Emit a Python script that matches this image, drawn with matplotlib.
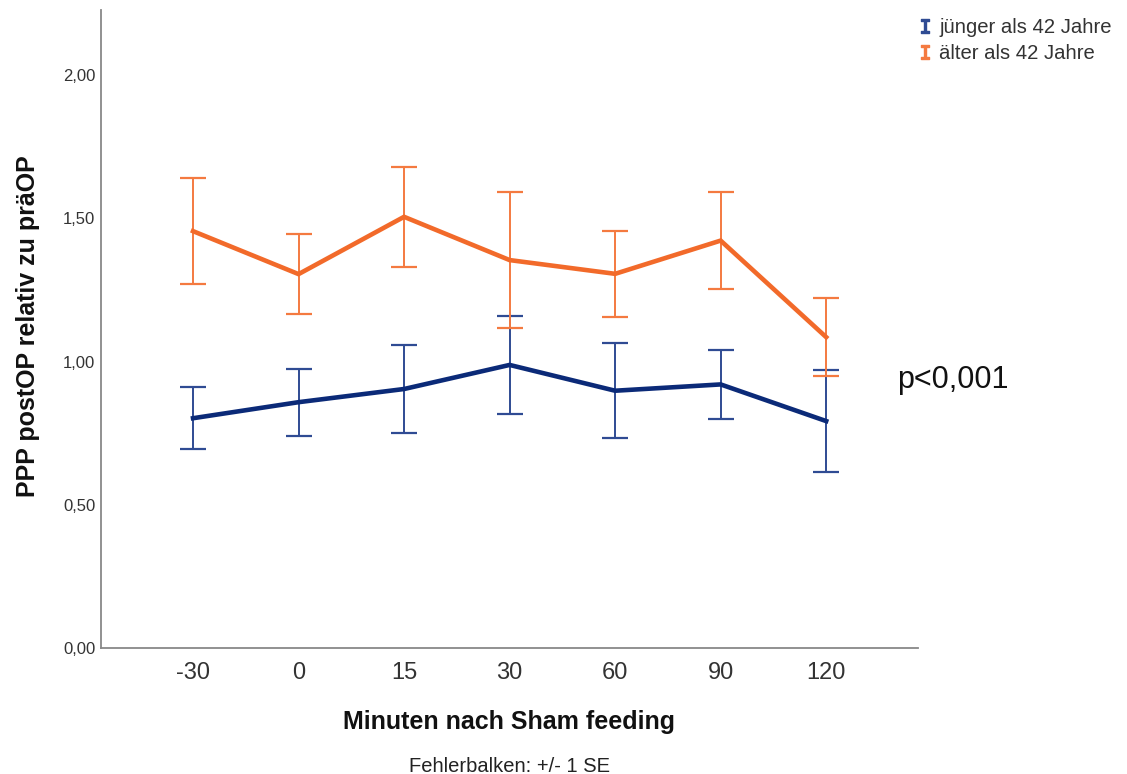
import matplotlib
matplotlib.use("Agg")
import matplotlib.pyplot as plt
from matplotlib.lines import Line2D

plt.rcParams['font.family'] = ['Liberation Sans', 'DejaVu Sans']

categories = ["-30", "0", "15", "30", "60", "90", "120"]
young_mean = [0.802, 0.858, 0.904, 0.988, 0.898, 0.920, 0.792]
young_se = [0.108, 0.117, 0.152, 0.171, 0.165, 0.121, 0.178]
old_mean = [1.455, 1.305, 1.505, 1.354, 1.306, 1.422, 1.085]
old_se = [0.186, 0.140, 0.174, 0.238, 0.150, 0.168, 0.135]
y_ticks = [0.0, 0.5, 1.0, 1.5, 2.0]
y_ticklabels = ["0,00", "0,50", "1,00", "1,50", "2,00"]
legend_labels = ["jünger als 42 Jahre", "älter als 42 Jahre"]

blue_line = "#0b2a78"
blue_err = "#2f4b93"
orange_line = "#f26a2a"
orange_err = "#f47a40"

fig = plt.figure(figsize=(11.27, 7.74), dpi=100)
ax = fig.add_axes([101/1127, 1-648/774, (918-101)/1127, (648-10)/774])

x = list(range(len(categories)))
for mean, se, lc, ec in [(young_mean, young_se, blue_line, blue_err),
                         (old_mean, old_se, orange_line, orange_err)]:
    ax.errorbar(x, mean, yerr=se, fmt='none', ecolor=ec, elinewidth=1.4,
                capsize=9.4, capthick=1.6, zorder=2)
    ax.plot(x, mean, color=lc, lw=3.3, zorder=3, solid_joinstyle='miter')

ax.set_xlim(-0.872, 6.87)
ax.set_ylim(0, (648-10)/286.5)
ax.set_xticks(x)
ax.set_xticklabels(categories, fontsize=17, color="#333333")
ax.set_yticks(y_ticks)
ax.set_yticklabels(y_ticklabels, fontsize=12, color="#333333")
ax.tick_params(axis='both', length=0)
ax.tick_params(axis='x', pad=10)
ax.tick_params(axis='y', pad=4)
for s in ['top', 'right']:
    ax.spines[s].set_visible(False)
for s in ['left', 'bottom']:
    ax.spines[s].set_color("#888888")
    ax.spines[s].set_linewidth(1.3)

fig.text(28/1127, 1-326/774, "PPP postOP relativ zu präOP", rotation=90,
         ha='center', va='center', fontsize=18, fontweight='bold', color="#111111")
fig.text(509/1127, 1-722/774, "Minuten nach Sham feeding", ha='center', va='center',
         fontsize=18, fontweight='bold', color="#111111")
fig.text(510/1127, 1-766/774, "Fehlerbalken: +/- 1 SE", ha='center', va='center',
         fontsize=14.5, color="#222222")
fig.text(897/1127, 1-380/774, "p<0,001", ha='left', va='center', fontsize=22, color="#111111")

handles = [Line2D([], [], linestyle='None', marker=r'$\mathtt{I}$', markersize=10, color=blue_err),
           Line2D([], [], linestyle='None', marker=r'$\mathtt{I}$', markersize=10, color=orange_err)]
fig.legend(handles, legend_labels, loc='upper left', bbox_to_anchor=(909/1127, 1-8/774),
           frameon=False, fontsize=14.6, handlelength=0.6, handletextpad=0.4,
           labelspacing=0.32, borderpad=0, labelcolor="#333333")

fig.savefig("out.png", dpi=100)
